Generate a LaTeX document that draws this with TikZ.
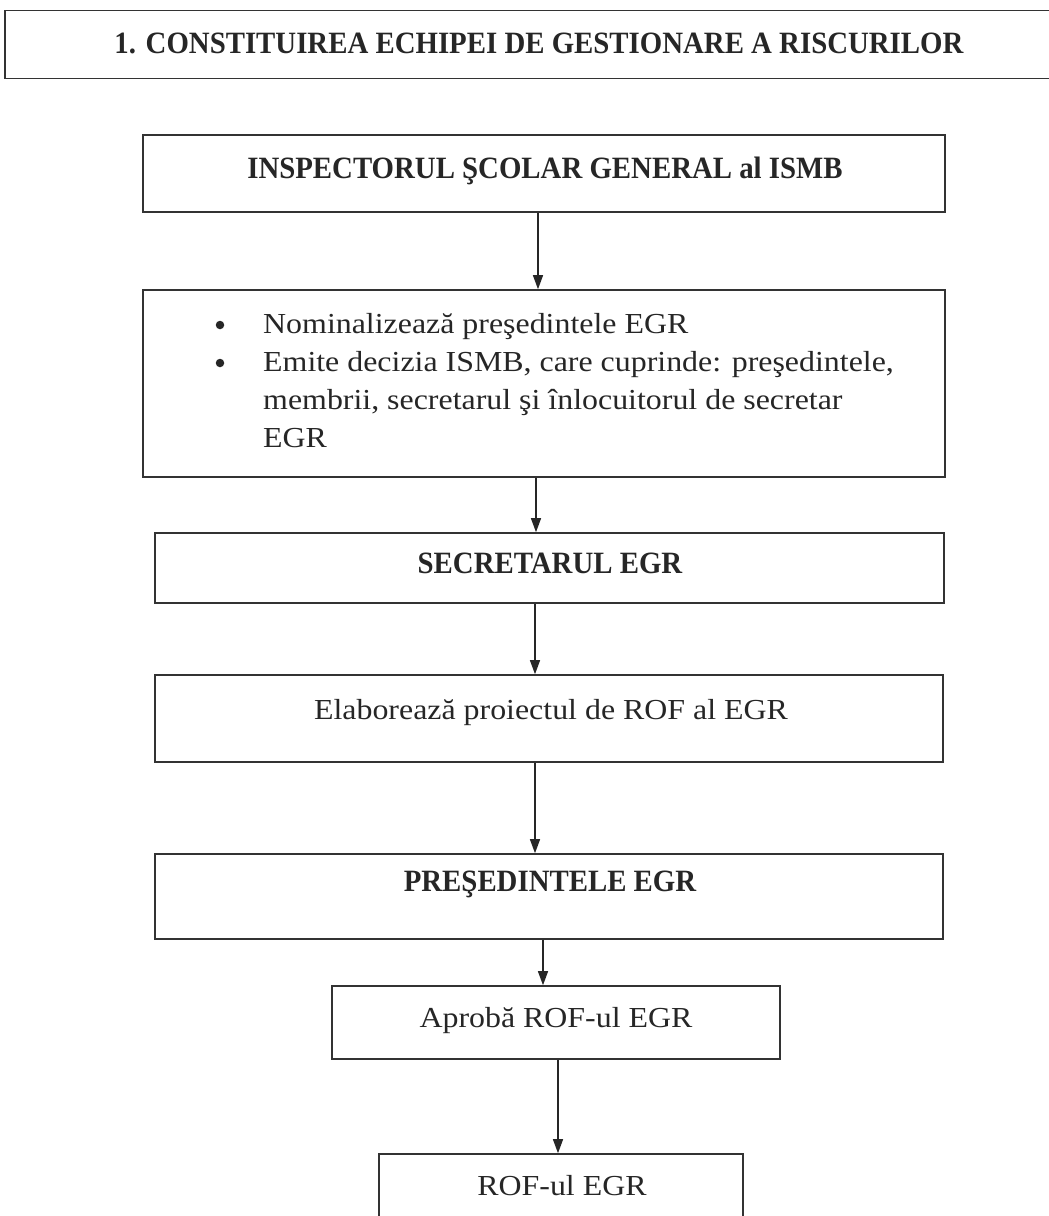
\documentclass[tikz,border=0pt]{standalone}
\usepackage{fontspec}
\setmainfont{Liberation Serif}
\newfontfamily\bodyf[FakeStretch=1.1]{Liberation Serif}
\newfontfamily\headf[FakeStretch=0.93]{Liberation Serif}
\usetikzlibrary{arrows.meta}
\begin{document}
\begin{tikzpicture}[x=1pt,y=-1pt,
  box/.style={draw=black!80, line width=1.6pt, rectangle, inner sep=0pt},
  hd/.style={font=\headf\bfseries\fontsize{31}{36}\selectfont, text=black!85, inner sep=0pt, anchor=base},
  bd/.style={font=\bodyf\fontsize{29}{38}\selectfont, text=black!85, inner sep=0pt, anchor=base},
  bdl/.style={bd, anchor=base west},
  dot/.style={circle, fill=black!85, inner sep=0pt, minimum size=8.5pt},
  arr/.style={draw=black!85, line width=1.3pt, -{Triangle[length=14pt,width=10pt]}}]
\useasboundingbox (0,0) rectangle (1049,1216);
\fill[white] (0,0) rectangle (1049,1216);

% boxes
\node[box, minimum width=1050pt, minimum height=68pt] (b0) at (530,44.5) {};
\node[box, minimum width=802pt, minimum height=77pt] (b1) at (544,173.5) {};
\node[box, minimum width=802pt, minimum height=187pt] (b2) at (544,383.5) {};
\node[box, minimum width=789pt, minimum height=70pt] (b3) at (549.5,568) {};
\node[box, minimum width=788pt, minimum height=87pt] (b4) at (549,718.5) {};
\node[box, minimum width=788pt, minimum height=85pt] (b5) at (549,896.5) {};
\node[box, minimum width=448pt, minimum height=73pt] (b6) at (556,1022.5) {};
\node[box, minimum width=364pt, minimum height=75pt] (b7) at (561,1191.5) {};

% texts
\node[hd] (t0) at (539,53) {1. CONSTITUIREA ECHIPEI DE GESTIONARE A RISCURILOR};
\node[hd] (t1) at (545,178) {INSPECTORUL ŞCOLAR GENERAL al ISMB};
\node[dot] (u1) at (220,325) {};
\node[dot] (u2) at (220,363) {};
\node[bdl] (l1) at (263,333) {Nominalizează preşedintele EGR};
\node[bdl] (l2) at (263,371) {Emite decizia ISMB, care cuprinde: preşedintele,};
\node[bdl] (l3) at (263,409) {membrii, secretarul şi înlocuitorul de secretar};
\node[bdl] (l4) at (263,447) {EGR};
\node[hd] (t3) at (550,573) {SECRETARUL EGR};
\node[bd] (t4) at (551,719) {Elaborează proiectul de ROF al EGR};
\node[hd] (t5) at (550,891) {PREŞEDINTELE EGR};
\node[bd] (t6) at (556,1027) {Aprobă ROF-ul EGR};
\node[bd] (t7) at (562,1195) {ROF-ul EGR};

% connectors
\draw[arr] ([xshift=-6pt]b1.south) -- ([xshift=-6pt]b2.north);
\draw[arr] ([xshift=-8pt]b2.south) -- ([xshift=-13.5pt]b3.north);
\draw[arr] ([xshift=-14.5pt]b3.south) -- ([xshift=-14pt]b4.north);
\draw[arr] ([xshift=-14pt]b4.south) -- ([xshift=-14pt]b5.north);
\draw[arr] ([xshift=-6pt]b5.south) -- ([xshift=-13pt]b6.north);
\draw[arr] ([xshift=2pt]b6.south) -- ([xshift=-3pt]b7.north);
\end{tikzpicture}
\end{document}
